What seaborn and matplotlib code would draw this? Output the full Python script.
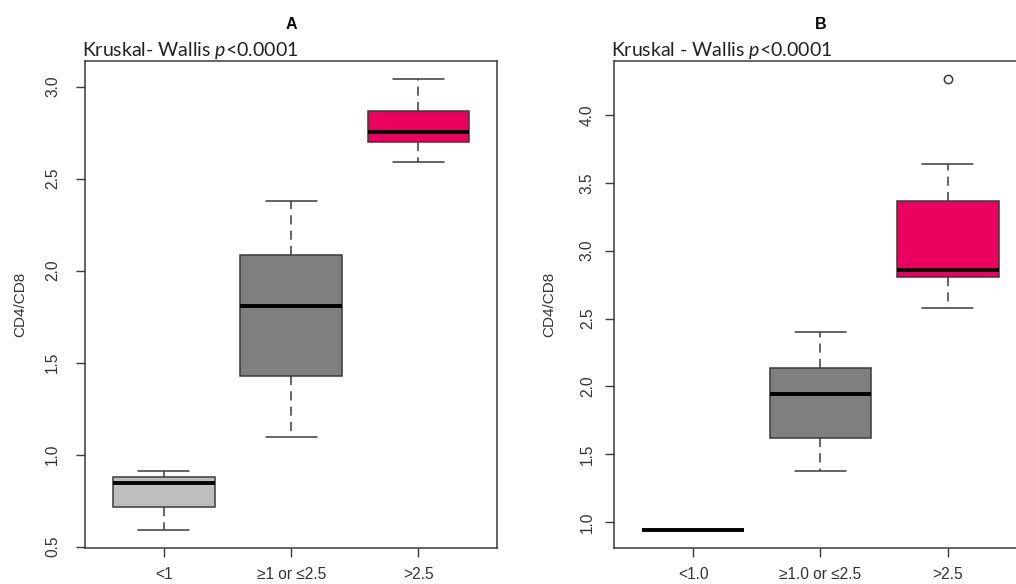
import pandas as pd
import seaborn as sns
import matplotlib.pyplot as plt

# Panel A: five-number summaries
groups_a = ['<1', '≥1 or ≤2.5', '>2.5']
low_a = [0.591, 0.717, 0.843, 0.876, 0.912]
mid_a = [1.096, 1.429, 1.810, 2.087, 2.379]
high_a = [2.591, 2.699, 2.751, 2.865, 3.042]

# Panel B (last group has one outlier at 4.265)
groups_b = ['<1.0', '≥1.0 or ≤2.5', '>2.5']
low_b = [0.941, 0.941, 0.941, 0.941, 0.941]
mid_b = [1.375, 1.619, 1.943, 2.134, 2.398]
high_b = [2.577, 2.804, 2.804, 2.860, 2.860, 3.363, 3.363, 3.642, 4.265]

yticks_a = [0.5, 1.0, 1.5, 2.0, 2.5, 3.0]
yticks_b = [1.0, 1.5, 2.0, 2.5, 3.0, 3.5, 4.0]

box_colors = ['#bebebe', '#7f7f7f', '#eb0060']
line_col = '#3a3a3a'
text_col = '#333333'

sns.set_style('ticks')
plt.rcParams['font.family'] = ['Liberation Sans', 'DejaVu Sans']
plt.rcParams['mathtext.fontset'] = 'custom'
plt.rcParams['mathtext.rm'] = 'Lato'
plt.rcParams['mathtext.it'] = 'Lato:italic'


def make_df(groups, series):
    rows = []
    for g, vals in zip(groups, series):
        rows += [(g, v) for v in vals]
    return pd.DataFrame(rows, columns=['group', 'value'])


fig = plt.figure(figsize=(10.16, 5.84), dpi=100)
ax_a = fig.add_axes([0.0837, 0.0616, 0.4058, 0.8339])
ax_b = fig.add_axes([0.6046, 0.0616, 0.4058, 0.8339])

panels = [
    (ax_a, groups_a, [low_a, mid_a, high_a], yticks_a, (0.492, 3.139), 'A',
     r'Kruskal- Wallis $\mathit{p}$<0.0001', 11.5),
    (ax_b, groups_b, [low_b, mid_b, high_b], yticks_b, (0.809, 4.398), 'B',
     r'Kruskal - Wallis $\mathit{p}$<0.0001', 7.5),
]

for ax, groups, series, yticks, ylim, letter, kw_text, ypad in panels:
    df = make_df(groups, series)
    sns.boxplot(data=df, x='group', y='value', hue='group', order=groups,
                hue_order=groups, palette=box_colors, saturation=1,
                width=0.8, linecolor=line_col, linewidth=1.1, legend=False,
                whiskerprops=dict(linestyle=(0, (6, 4))),
                medianprops=dict(color='black', linewidth=2.8),
                flierprops=dict(marker='o', markerfacecolor='none',
                                markeredgecolor=line_col, markersize=6,
                                markeredgewidth=1.1),
                ax=ax)

    ax.set_xlim(-0.62, 2.62)
    ax.set_ylim(*ylim)
    ax.set_yticks(yticks)
    ax.set_yticklabels([f'{t:.1f}' for t in yticks])
    ax.set_xlabel('')
    ax.set_ylabel('CD4/CD8', fontsize=11, color=text_col)
    ax.yaxis.set_label_coords(-0.141, 0.5)

    ax.tick_params(axis='both', direction='out', length=6.5, width=1.0,
                   color=line_col, labelcolor=text_col, labelsize=11.2)
    ax.tick_params(axis='x', pad=7.5)
    ax.tick_params(axis='y', pad=ypad)
    plt.setp(ax.get_yticklabels(), rotation=90, va='center')

    for sp in ax.spines.values():
        sp.set_visible(True)
        sp.set_color(line_col)
        sp.set_linewidth(1.1)

    ax.text(0.5, 1.065, letter, transform=ax.transAxes, ha='center',
            va='baseline', fontsize=11.5, fontweight='bold', color='black')
    ax.text(-0.008, 1.0103, kw_text, transform=ax.transAxes, ha='left',
            va='baseline', fontsize=14, family='Lato', color='#222222')

fig.savefig('out.png', dpi=100)
